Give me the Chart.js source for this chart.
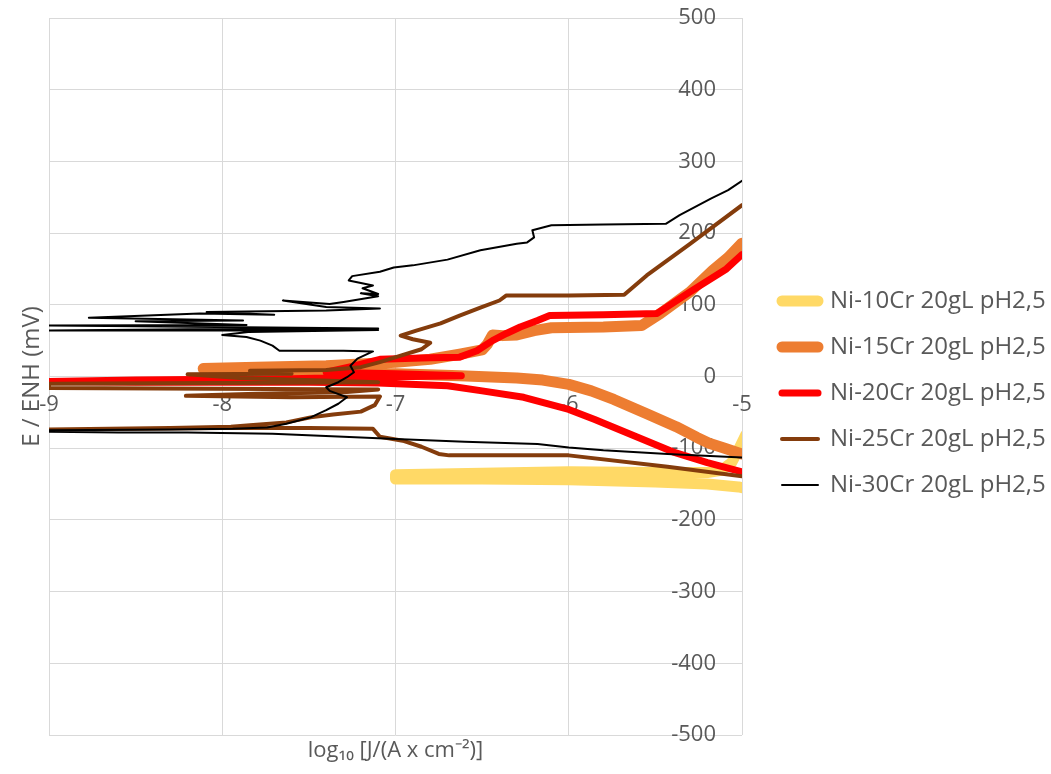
<!DOCTYPE html>
<html>
<head>
<meta charset="utf-8">
<script src="https://cdn.jsdelivr.net/npm/chart.js@4.4.1/dist/chart.umd.min.js"></script>
<style>
  html, body { margin: 0; padding: 0; background: #fff; }
  #wrap { width: 1051px; height: 774px; }
</style>
</head>
<body>
<div id="wrap"><canvas id="polChart"></canvas></div>
<script>
// tick labels
const xTickValues = [-9, -8, -7, -6, -5];
const eTickValues = [-500, -400, -300, -200, -100, 0, 100, 200, 300, 400, 500];

const seriesNames = [
  "Ni-10Cr 20gL pH2,5",
  "Ni-15Cr 20gL pH2,5",
  "Ni-20Cr 20gL pH2,5",
  "Ni-25Cr 20gL pH2,5",
  "Ni-30Cr 20gL pH2,5"
];

// log10 J and E (mV), in scan order
const ni10X = [-4.98, -5.02, -5.2, -5.5, -6.0, -6.5, -7.0, -7.0, -6.5, -6.0, -5.5, -5.2, -5.12, -5.06, -5.02, -4.98];
const ni10E = [-156, -154, -150, -147, -144, -143, -143, -137, -135, -133, -134, -134, -131, -120, -102, -82];

const ni15X = [-5.0, -5.1, -5.19, -5.26, -5.38, -5.55, -5.74, -5.87, -6.0, -6.15, -6.3, -6.63, -7.0, -7.4, -7.8, -8.11, -7.8, -7.4, -7.0, -6.8, -6.63, -6.5, -6.47, -6.44, -6.38, -6.3, -6.2, -6.1, -5.8, -5.58, -5.47, -5.3, -5.17, -5.08, -5.0];
const ni15E = [-108, -100, -93, -85, -70, -52, -32, -20, -11, -5, -2, 1, 4, 7, 10, 11, 13, 15, 20, 24, 31, 37, 45, 58, 57, 58, 64, 68, 69, 71, 88, 118, 148, 166, 186];

const ni20X = [-5.0, -5.2, -5.4, -5.55, -5.7, -5.85, -6.0, -6.26, -6.5, -6.7, -7.1, -7.5, -8.0, -8.5, -9.0, -8.5, -8.0, -7.6, -7.2, -6.62, -7.0, -7.4, -7.25, -7.09, -6.8, -6.63, -6.53, -6.44, -6.36, -6.28, -6.18, -6.11, -5.8, -5.49, -5.3, -5.09, -5.0];
const ni20E = [-133, -120, -105, -90, -75, -60, -46, -29, -20, -13, -9, -8, -8, -8, -7, -5, -4, -3, -1, 1, 4, 6, 14, 24, 26, 27, 36, 50, 60, 69, 78, 85, 86, 88, 118, 150, 170];

const ni25X = [-5.0, -5.43, -6.0, -6.69, -6.75, -6.85, -6.95, -7.09, -7.13, -7.5, -8.0, -8.5, -9.0, -8.3, -7.95, -7.84, -7.63, -7.49, -7.36, -7.2, -7.12, -7.09, -7.6, -8.21, -7.8, -7.3, -7.1, -9.0, -9.0, -7.1, -7.9, -8.2, -7.6, -7.84, -7.4, -7.2, -7.09, -6.97, -6.85, -6.8, -6.9, -6.97, -6.88, -6.74, -6.63, -6.51, -6.4, -6.36, -6.0, -5.68, -5.55, -5.3, -5.0];
const ni25E = [-139, -126, -110, -110, -108, -98, -90, -84, -73, -72, -72, -73, -74, -72, -70, -68, -64, -57, -53, -49, -40, -28, -29, -27, -24, -22, -18, -16, -10, -8, -2, 3, 4, 8, 9, 13, 20, 29, 38, 47, 52, 57, 64, 74, 85, 96, 106, 113, 113, 114, 141, 185, 239];

const ni30X = [-5.0, -5.43, -5.8, -6.0, -6.18, -6.6, -7.0, -7.3, -7.71, -8.2, -8.6, -9.0, -9.0, -8.3, -7.94, -7.74, -7.63, -7.49, -7.4, -7.33, -7.28, -7.38, -7.4, -7.33, -7.28, -7.24, -7.26, -7.22, -7.13, -7.3, -7.67, -7.71, -7.78, -7.86, -8.0, -7.85, -7.1, -8.5, -9.0, -8.2, -7.1, -8.5, -9.0, -7.86, -8.5, -7.88, -8.77, -8.13, -7.7, -8.09, -7.4, -7.09, -7.4, -7.65, -7.38, -7.3, -7.1, -7.2, -7.1, -7.19, -7.13, -7.27, -7.25, -7.09, -7.01, -6.9, -6.7, -6.51, -6.3, -6.24, -6.2, -6.21, -6.1, -5.8, -5.44, -5.36, -5.18, -5.08, -5.0];
const ni30E = [-113, -108, -103, -99, -94, -91, -87, -84, -80, -78, -78, -77, -75, -74, -73, -71, -66, -57, -47, -38, -29, -20, -15, -8, -1, 6, 15, 25, 35, 36, 36, 43, 50, 55, 58, 62, 65, 64, 64, 66, 67, 70, 71, 72, 77, 78, 82, 88, 86, 90, 92, 95, 97, 106, 101, 104, 112, 116, 115, 123, 127, 134, 140, 146, 152, 155, 163, 176, 185, 187, 194, 204, 211, 212, 213, 225, 248, 260, 273];

const seriesX = [ni10X, ni15X, ni20X, ni25X, ni30X];
const seriesE = [ni10E, ni15E, ni20E, ni25E, ni30E];
const lineColors = ["#FFD966", "#ED7D31", "#FF0000", "#843C0C", "#000000"];
const lineWidths = [11, 11, 7, 4, 2];

const textColor = "#595959";
const gridColor = "#d9d9d9";
const fontFamily = "'Open Sans', sans-serif";
const yLabelAnchor = -5.15; // y tick labels sit a little left of the x = -5 line

const ticksFrom = (values) => (scale) => {
  scale.ticks = values.map(v => ({ value: v }));
};

const datasets = seriesNames.map((name, i) => ({
  label: name,
  data: seriesX[i].map((x, j) => ({ x: x, y: seriesE[i][j] })),
  showLine: true,
  borderColor: lineColors[i],
  backgroundColor: lineColors[i],
  borderWidth: lineWidths[i],
  borderCapStyle: "round",
  borderJoinStyle: "round",
  pointRadius: 0,
  pointHoverRadius: 0,
  tension: 0,
  clip: 0,
  order: seriesNames.length - i
}));

const hidden = {
  ticks: { display: false },
  grid: { display: false, drawTicks: false },
  border: { display: false }
};

new Chart(document.getElementById("polChart"), {
  type: "scatter",
  data: { datasets: datasets },
  options: {
    responsive: true,
    maintainAspectRatio: false,
    animation: false,
    events: [],
    layout: { padding: { left: 16, right: 0, top: 18, bottom: 6 } },
    scales: {
      x: {
        type: "linear", min: -9, max: -5, position: { y: 0 },
        afterBuildTicks: ticksFrom(xTickValues),
        ticks: { display: false },
        grid: { color: gridColor, lineWidth: 1, drawTicks: false },
        border: { display: false }
      },
      y: {
        type: "linear", min: -500, max: 500, position: { x: -5 },
        afterBuildTicks: ticksFrom(eTickValues),
        ticks: { display: false },
        grid: { color: gridColor, lineWidth: 1, drawTicks: false },
        border: { display: false }
      },
      xLab: {
        type: "linear", axis: "x", min: -9, max: -5, position: { y: 0 }, z: 1,
        afterBuildTicks: ticksFrom(xTickValues),
        ticks: { color: textColor, font: { family: fontFamily, size: 22 }, padding: 15, maxRotation: 0 },
        grid: { display: false, drawTicks: false },
        border: { display: false }
      },
      yLab: {
        type: "linear", axis: "y", min: -500, max: 500, position: { x: yLabelAnchor }, z: 1,
        afterBuildTicks: ticksFrom(eTickValues),
        ticks: { color: textColor, font: { family: fontFamily, size: 22 } },
        grid: { display: false, drawTicks: false },
        border: { display: false }
      },
      xTitle: Object.assign({
        type: "linear", axis: "x", position: "bottom",
        afterFit: (s) => { s.height = 33; },
        title: { display: true, text: "log\u2081\u2080 [J/(A x cm\u207B\u00B2)]", color: textColor, font: { family: fontFamily, size: 22 }, padding: { top: 4, bottom: 4 } }
      }, hidden),
      yTitle: Object.assign({
        type: "linear", axis: "y", position: "left",
        afterFit: (s) => { s.width = 33; },
        title: { display: true, text: "E / ENH (mV)", color: textColor, font: { family: fontFamily, size: 24 }, padding: { top: 2, bottom: 2 } }
      }, hidden),
      yGap: Object.assign({
        type: "linear", axis: "y", position: "right",
        afterFit: (s) => { s.width = 18; }
      }, hidden)
    },
    plugins: {
      tooltip: { enabled: false },
      legend: {
        position: "right",
        align: "center",
        maxWidth: 291,
        labels: {
          usePointStyle: true,
          pointStyle: "line",
          pointStyleWidth: 36,
          color: textColor,
          font: { family: fontFamily, size: 24 },
          padding: 22,
          sort: (a, b) => a.datasetIndex - b.datasetIndex,
          generateLabels: (chart) =>
            Chart.defaults.plugins.legend.labels.generateLabels(chart)
              .map(item => Object.assign(item, { lineCap: "round" }))
        }
      }
    }
  }
});
</script>
</body>
</html>
